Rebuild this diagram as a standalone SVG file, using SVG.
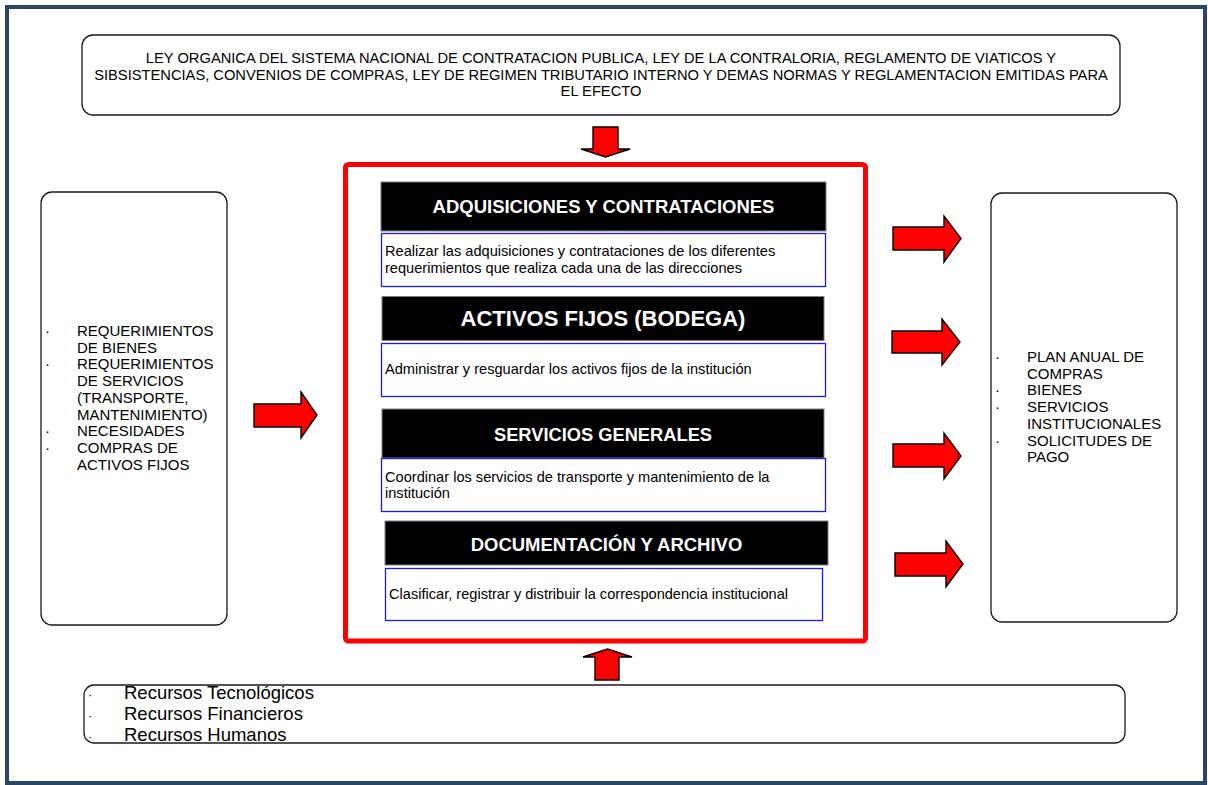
<svg xmlns="http://www.w3.org/2000/svg" width="1208" height="785" viewBox="0 0 1208 785">
  <style>
    text { font-family: "Liberation Sans", Arial, sans-serif; fill: #000; }
    .box { fill: #fff; stroke: #1a1a1a; stroke-width: 1.3; }
    .hdr { fill: #000; stroke: #7f7f7f; stroke-width: 1; }
    .hdr-t { fill: #fff; font-weight: bold; text-anchor: middle; }
    .desc { fill: #fff; stroke: #1a1aff; stroke-width: 1.3; }
    .dt { font-size: 14.6px; }
    .lst { font-size: 15px; }
    .top-t { font-size: 14.7px; text-anchor: middle; }
    .res { font-size: 18.5px; }
    .arrow { fill: #ff0000; stroke: #000; stroke-width: 1.4; stroke-linejoin: miter; }
  </style>

  <!-- page frame -->
  <rect x="0" y="0" width="1208" height="785" fill="#fff"/>
  <rect x="7" y="7" width="1198" height="776" fill="#fff" stroke="#2b4566" stroke-width="4"/>

  <!-- legal framework -->
  <g id="normativa">
    <rect class="box" x="82" y="35" width="1038" height="80" rx="11"/>
    <text class="top-t" x="601" y="63">LEY ORGANICA DEL SISTEMA NACIONAL DE CONTRATACION PUBLICA, LEY DE LA CONTRALORIA, REGLAMENTO DE VIATICOS Y</text>
    <text class="top-t" x="601" y="79.5">SIBSISTENCIAS, CONVENIOS DE COMPRAS, LEY DE REGIMEN TRIBUTARIO INTERNO Y DEMAS NORMAS Y REGLAMENTACION EMITIDAS PARA</text>
    <text class="top-t" x="601" y="96">EL EFECTO</text>
  </g>

  <!-- inputs -->
  <g id="entradas">
    <rect class="box" x="41" y="192" width="186" height="433" rx="11"/>
    <g class="lst">
      <text x="45" y="336">·</text>
      <text x="77" y="336">REQUERIMIENTOS</text>
      <text x="77" y="352.7">DE BIENES</text>
      <text x="45" y="369.4">·</text>
      <text x="77" y="369.4">REQUERIMIENTOS</text>
      <text x="77" y="386.1">DE SERVICIOS</text>
      <text x="77" y="402.8">(TRANSPORTE,</text>
      <text x="77" y="419.5">MANTENIMIENTO)</text>
      <text x="45" y="436.2">·</text>
      <text x="77" y="436.2">NECESIDADES</text>
      <text x="45" y="452.9">·</text>
      <text x="77" y="452.9">COMPRAS DE</text>
      <text x="77" y="469.6">ACTIVOS FIJOS</text>
    </g>
  </g>

  <!-- process block -->
  <g id="proceso">
    <rect x="345.5" y="164.5" width="520" height="476.5" rx="3" fill="#fff" stroke="#ff0000" stroke-width="5"/>
  </g>

  <g id="adquisiciones">
    <rect class="hdr" x="381" y="182" width="445" height="49"/>
    <text class="hdr-t" x="603.5" y="212.5" font-size="18.5">ADQUISICIONES Y CONTRATACIONES</text>
    <rect class="desc" x="381.5" y="233.5" width="444" height="53"/>
    <text class="dt" x="385" y="256">Realizar las adquisiciones y contrataciones de los diferentes</text>
    <text class="dt" x="385" y="273">requerimientos que realiza cada una de las direcciones</text>
  </g>

  <g id="activos-fijos">
    <rect class="hdr" x="382" y="296.5" width="442" height="44"/>
    <text class="hdr-t" x="603" y="326" font-size="22">ACTIVOS FIJOS (BODEGA)</text>
    <rect class="desc" x="381.5" y="343.5" width="444" height="53"/>
    <text class="dt" x="385" y="374">Administrar y resguardar los activos fijos de la institución</text>
  </g>

  <g id="servicios-generales">
    <rect class="hdr" x="382" y="409" width="442" height="49"/>
    <text class="hdr-t" x="603" y="440.5" font-size="18.3">SERVICIOS GENERALES</text>
    <rect class="desc" x="381.5" y="458.5" width="444" height="53"/>
    <text class="dt" x="385" y="482">Coordinar los servicios de transporte y mantenimiento de la</text>
    <text class="dt" x="385" y="498">institución</text>
  </g>

  <g id="documentacion">
    <rect class="hdr" x="385" y="521" width="443" height="44"/>
    <text class="hdr-t" x="606.5" y="550.5" font-size="18.5">DOCUMENTACIÓN Y ARCHIVO</text>
    <rect class="desc" x="385.5" y="568.5" width="437" height="52"/>
    <text class="dt" x="389" y="599">Clasificar, registrar y distribuir la correspondencia institucional</text>
  </g>

  <!-- outputs -->
  <g id="salidas">
    <rect class="box" x="991" y="193" width="186" height="429" rx="11"/>
    <g class="lst">
      <text x="995" y="362">·</text>
      <text x="1027" y="362">PLAN ANUAL DE</text>
      <text x="1027" y="378.7">COMPRAS</text>
      <text x="995" y="395.4">·</text>
      <text x="1027" y="395.4">BIENES</text>
      <text x="995" y="412.1">·</text>
      <text x="1027" y="412.1">SERVICIOS</text>
      <text x="1027" y="428.8">INSTITUCIONALES</text>
      <text x="995" y="445.5">·</text>
      <text x="1027" y="445.5">SOLICITUDES DE</text>
      <text x="1027" y="462.2">PAGO</text>
    </g>
  </g>

  <!-- resources -->
  <g id="recursos">
    <rect class="box" x="84" y="685" width="1041" height="58" rx="10"/>
    <g class="res">
      <text x="88" y="699" font-size="12">·</text>
      <text x="124" y="699">Recursos Tecnológicos</text>
      <text x="88" y="720" font-size="12">·</text>
      <text x="124" y="720">Recursos Financieros</text>
      <text x="88" y="741" font-size="12">·</text>
      <text x="124" y="741">Recursos Humanos</text>
    </g>
  </g>

  <!-- connectors -->
  <g id="conectores">
    <!-- regulations down into process -->
    <polygon class="arrow" points="593,127 618,127 618,149 630,149 605.5,157 581,149 593,149"/>
    <!-- inputs into process -->
    <polygon class="arrow" points="254,404 301,404 301,392 317,415 301,438 301,427 254,427"/>
    <!-- process to outputs -->
    <polygon class="arrow" points="893,227 944,227 944,216 961,238.5 944,262 944,250 893,250"/>
    <polygon class="arrow" points="892,331 942,331 942,319 960,342 942,365 942,353 892,353"/>
    <polygon class="arrow" points="893,444 944,444 944,433 961,456 944,479 944,467 893,467"/>
    <polygon class="arrow" points="895,553 946,553 946,541 963,564 946,587 946,576 895,576"/>
    <!-- resources up into process -->
    <polygon class="arrow" points="595,680 619,680 619,657 632,657 607.5,649 583,657 595,657"/>
  </g>
</svg>
